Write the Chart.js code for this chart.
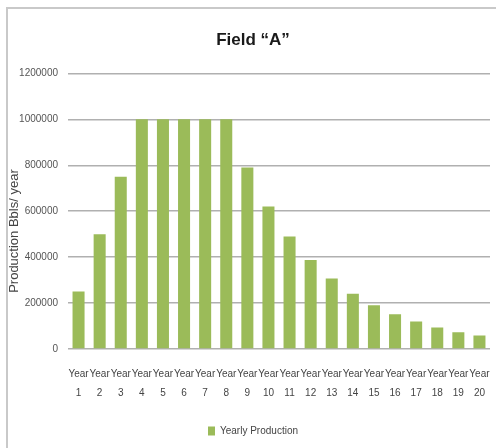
<!DOCTYPE html>
<html>
<head>
<meta charset="utf-8">
<script src="https://cdn.jsdelivr.net/npm/chart.js@4"></script>
<style>
  html, body { margin: 0; padding: 0; background: #fff; }
  #wrap { position: relative; width: 496px; height: 448px; overflow: hidden; }
  #frame { position: absolute; left: 6px; top: 7px; width: 520px; height: 480px;
           border: 2px solid #c9c9c9; box-sizing: border-box; }
  #prodChart { position: absolute; left: 0; top: 0; }
</style>
</head>
<body>
<div id="wrap">
  <div id="frame"></div>
  <canvas id="prodChart" width="496" height="448"></canvas>
</div>
<script>
const years = ['1','2','3','4','5','6','7','8','9','10','11','12','13','14','15','16','17','18','19','20'];
const yearlyProduction = [250000, 500000, 750000, 1000000, 1000000, 1000000, 1000000, 1000000, 790000, 620000,
                          490000, 388000, 307000, 241000, 190000, 151000, 120000, 94000, 73000, 59000];
const yTicks = [0, 200000, 400000, 600000, 800000, 1000000, 1200000];

const fontFam = '"Liberation Sans Narrow", "Liberation Sans", sans-serif';
Chart.defaults.font.family = fontFam;
Chart.defaults.color = '#555';

const prodChart = new Chart(document.getElementById('prodChart'), {
  type: 'bar',
  data: {
    labels: years.map(y => ['Year', y]),
    datasets: [{
      label: 'Yearly Production',
      data: yearlyProduction,
      backgroundColor: '#9bbb59',
      borderWidth: 0,
      categoryPercentage: 1,
      barPercentage: 0.57
    }]
  },
  options: {
    responsive: false,
    animation: false,
    layout: { padding: { left: 16, right: 6, top: 8, bottom: 2 } },
    plugins: {
      title: {
        display: true,
        text: 'Field \u201cA\u201d',
        color: '#1a1a1a',
        font: { family: fontFam, size: 17, weight: 'bold' },
        padding: { top: 22, bottom: 23 }
      },
      legend: {
        position: 'bottom',
        labels: {
          boxWidth: 7, boxHeight: 9, padding: 10,
          color: '#444',
          font: { family: fontFam, size: 10 }
        }
      },
      tooltip: { enabled: false }
    },
    scales: {
      x: {
        grid: { display: false, drawTicks: false },
        border: { display: false },
        ticks: {
          autoSkip: false, maxRotation: 0, minRotation: 0,
          padding: 16, color: '#444',
          font: { family: fontFam, size: 10, lineHeight: 1.9 }
        },
        afterFit: s => { s.height = 67; s.paddingLeft = 0; s.paddingRight = 0; }
      },
      y: {
        min: 0, max: 1200000,
        afterBuildTicks: s => { s.ticks = yTicks.map(v => ({ value: v })); },
        grid: { color: '#b0b0b0', lineWidth: 1.5, drawTicks: false },
        border: { display: false },
        ticks: {
          padding: 10, color: '#555',
          font: { family: fontFam, size: 10 },
          callback: v => String(v)
        },
        title: {
          display: true,
          text: 'Production Bbls/ year' + ' '.repeat(11),
          color: '#444',
          font: { family: fontFam, size: 13 },
          padding: { top: -9, bottom: 0 }
        },
        afterFit: s => { s.width = 52; }
      }
    }
  }
});
</script>
</body>
</html>
